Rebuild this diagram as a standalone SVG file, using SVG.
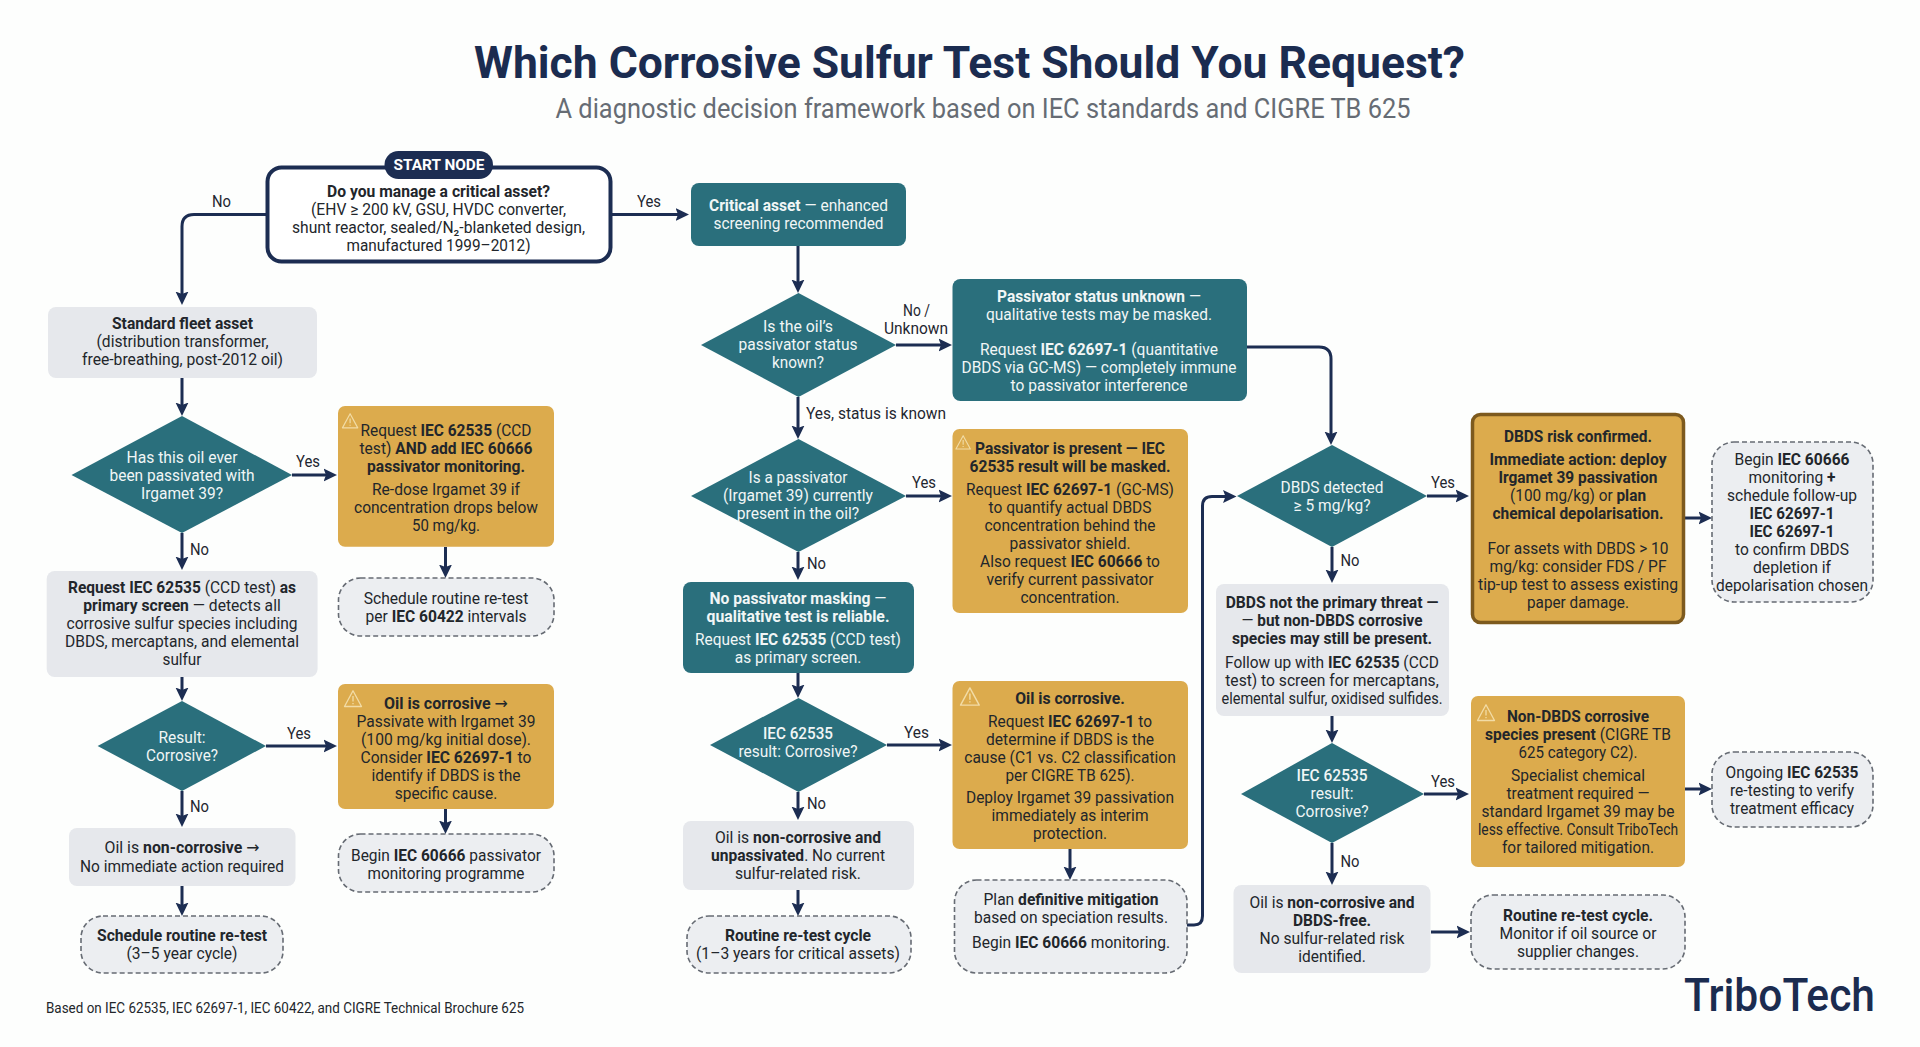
<svg xmlns="http://www.w3.org/2000/svg" width="1920" height="1047" viewBox="0 0 1920 1047">
<style>
text{font-family:Roboto,"DejaVu Sans",sans-serif;font-size:16.5px;text-anchor:middle;fill:#22262b}
.w text,text.w{fill:#f1f6f6}
.b{font-weight:700}
.teal{fill:#2a6f7c}
.amber{fill:#dcab4d}
.gray{fill:#e6e8ec}
.dash{fill:#eceef1;stroke:#666b73;stroke-width:1.6;stroke-dasharray:5 3}
.lbl{fill:#1f2630;font-size:16.5px}
.con path{fill:none;stroke:#1c2d52;stroke-width:3;marker-end:url(#ah)}
</style>
<defs>
<marker id="ah" markerUnits="userSpaceOnUse" markerWidth="15" markerHeight="15" refX="9.500" refY="7" orient="auto"><path d="M0 0.500L13.500 7L0 13.500L2.500 7Z" fill="#1c2d52"/></marker>
<g id="warn" fill="none" stroke="#f2dca6" stroke-width="1.3" stroke-linejoin="round"><path d="M9 0.800L17.500 16.500H0.500Z"/><path d="M9 6V11.500M9 13V14.200"/></g>
</defs>
<rect width="1920" height="1047" fill="#fdfefd"/>

<g id="header">
<text x="969.500" y="78" textLength="991" lengthAdjust="spacingAndGlyphs" class="b" style="font-size:44px;fill:#1b2c50">Which Corrosive Sulfur Test Should You Request?</text>
<text x="983" y="118" textLength="855" lengthAdjust="spacingAndGlyphs" style="font-size:27px;fill:#666c74">A diagnostic decision framework based on IEC standards and CIGRE TB 625</text>
</g>

<g id="connectors" class="con">
<path d="M266 214.500H194Q182 214.500 182 226.500V301"/>
<path d="M612 214.500H685"/>
<path d="M798 246V289"/>
<path d="M896 345H948"/>
<path d="M1247 347H1319Q1331 347 1331 359V441"/>
<path d="M798 397V435"/>
<path d="M906 496H948"/>
<path d="M798 552V576"/>
<path d="M798 673V694"/>
<path d="M887 745H948"/>
<path d="M798 792V816"/>
<path d="M798 890V912"/>
<path d="M1070 849V876"/>
<path d="M1187 925H1194Q1202.500 925 1202.500 916V506Q1202.500 496.500 1212 496.500H1232.500"/>
<path d="M182 378V412"/>
<path d="M292 475H333"/>
<path d="M445.500 547V574"/>
<path d="M182 533V566"/>
<path d="M182 677V697"/>
<path d="M266 746H333"/>
<path d="M445.500 809V830"/>
<path d="M182 791V823"/>
<path d="M182 886V912"/>
<path d="M1427 496H1465"/>
<path d="M1685 518H1708"/>
<path d="M1332 547V579"/>
<path d="M1332 716V739"/>
<path d="M1424 794H1465"/>
<path d="M1685 789H1708"/>
<path d="M1332 843V881"/>
<path d="M1431 932H1466"/>
</g>

<g id="edge-labels">
<text class="lbl" x="221.500" y="207" textLength="19" lengthAdjust="spacingAndGlyphs">No</text>
<text class="lbl" x="649" y="207" textLength="24" lengthAdjust="spacingAndGlyphs">Yes</text>
<text class="lbl" x="916.500" y="315.500" textLength="27" lengthAdjust="spacingAndGlyphs">No /</text>
<text class="lbl" x="916" y="334" textLength="64" lengthAdjust="spacingAndGlyphs">Unknown</text>
<text class="lbl" x="876" y="419" textLength="140" lengthAdjust="spacingAndGlyphs">Yes, status is known</text>
<text class="lbl" x="924" y="488" textLength="24" lengthAdjust="spacingAndGlyphs">Yes</text>
<text class="lbl" x="816.500" y="569" textLength="19" lengthAdjust="spacingAndGlyphs">No</text>
<text class="lbl" x="916.500" y="738" textLength="25" lengthAdjust="spacingAndGlyphs">Yes</text>
<text class="lbl" x="816.500" y="809" textLength="19" lengthAdjust="spacingAndGlyphs">No</text>
<text class="lbl" x="308" y="467" textLength="24" lengthAdjust="spacingAndGlyphs">Yes</text>
<text class="lbl" x="199.500" y="555" textLength="19" lengthAdjust="spacingAndGlyphs">No</text>
<text class="lbl" x="299" y="739" textLength="24" lengthAdjust="spacingAndGlyphs">Yes</text>
<text class="lbl" x="199.500" y="812" textLength="19" lengthAdjust="spacingAndGlyphs">No</text>
<text class="lbl" x="1443" y="488" textLength="24" lengthAdjust="spacingAndGlyphs">Yes</text>
<text class="lbl" x="1350" y="566" textLength="19" lengthAdjust="spacingAndGlyphs">No</text>
<text class="lbl" x="1443" y="787" textLength="24" lengthAdjust="spacingAndGlyphs">Yes</text>
<text class="lbl" x="1350" y="867" textLength="19" lengthAdjust="spacingAndGlyphs">No</text>
</g>

<g id="start">
<rect x="267.500" y="167.500" width="343" height="94" rx="14" fill="#fff" stroke="#1c2d52" stroke-width="4"/>
<rect x="384.500" y="151" width="108.500" height="28" rx="14" fill="#1c2d52"/>
<text x="439" y="170" textLength="91" lengthAdjust="spacingAndGlyphs" class="b" style="font-size:15px;fill:#fff">START NODE</text>
<text x="438.500" y="197" textLength="223" lengthAdjust="spacingAndGlyphs" class="b">Do you manage a critical asset?</text>
<text x="438.500" y="215" textLength="255" lengthAdjust="spacingAndGlyphs">(EHV ≥ 200 kV, GSU, HVDC converter,</text>
<text x="438.500" y="233" textLength="293" lengthAdjust="spacingAndGlyphs">shunt reactor, sealed/N₂-blanketed design,</text>
<text x="438.500" y="251" textLength="184" lengthAdjust="spacingAndGlyphs">manufactured 1999–2012)</text>
</g>

<g id="critical" class="w">
<rect class="teal" x="691" y="183" width="215" height="63" rx="8"/>
<text x="798.500" y="210.500" textLength="179" lengthAdjust="spacingAndGlyphs"><tspan class="b">Critical asset</tspan> — enhanced</text>
<text x="798.500" y="228.500" textLength="170" lengthAdjust="spacingAndGlyphs">screening recommended</text>
</g>

<g id="q-status" class="w">
<polygon class="teal" points="798.500,293 896,345 798.500,397 701,345"/>
<text x="798" y="332" textLength="70" lengthAdjust="spacingAndGlyphs">Is the oil’s</text>
<text x="798" y="350" textLength="119" lengthAdjust="spacingAndGlyphs">passivator status</text>
<text x="798" y="368" textLength="52" lengthAdjust="spacingAndGlyphs">known?</text>
</g>

<g id="status-unknown" class="w">
<rect class="teal" x="952.500" y="279" width="294.500" height="122" rx="8"/>
<text x="1099" y="302" textLength="204" lengthAdjust="spacingAndGlyphs"><tspan class="b">Passivator status unknown</tspan> —</text>
<text x="1099" y="320" textLength="226" lengthAdjust="spacingAndGlyphs">qualitative tests may be masked.</text>
<text x="1099" y="354.500" textLength="238" lengthAdjust="spacingAndGlyphs">Request <tspan class="b">IEC 62697-1</tspan> (quantitative</text>
<text x="1099" y="372.500" textLength="275" lengthAdjust="spacingAndGlyphs">DBDS via GC-MS) — completely immune</text>
<text x="1099" y="390.500" textLength="177" lengthAdjust="spacingAndGlyphs">to passivator interference</text>
</g>

<g id="q-present" class="w">
<polygon class="teal" points="798.500,439 906,496 798.500,552 691,496"/>
<text x="798" y="483" textLength="99" lengthAdjust="spacingAndGlyphs">Is a passivator</text>
<text x="798" y="501" textLength="150" lengthAdjust="spacingAndGlyphs">(Irgamet 39) currently</text>
<text x="798" y="519" textLength="122.600" lengthAdjust="spacingAndGlyphs">present in the oil?</text>
</g>

<g id="passivator-present">
<rect class="amber" x="952.500" y="429" width="235.500" height="184" rx="7"/>
<use href="#warn" transform="translate(955.500 435) scale(.85)"/>
<text x="1070" y="454" textLength="190" lengthAdjust="spacingAndGlyphs" class="b">Passivator is present — IEC</text>
<text x="1070" y="472" textLength="201" lengthAdjust="spacingAndGlyphs" class="b">62535 result will be masked.</text>
<text x="1070" y="495" textLength="208" lengthAdjust="spacingAndGlyphs">Request <tspan class="b">IEC 62697-1</tspan> (GC-MS)</text>
<text x="1070" y="513" textLength="163" lengthAdjust="spacingAndGlyphs">to quantify actual DBDS</text>
<text x="1070" y="531" textLength="171" lengthAdjust="spacingAndGlyphs">concentration behind the</text>
<text x="1070" y="549" textLength="121" lengthAdjust="spacingAndGlyphs">passivator shield.</text>
<text x="1070" y="567" textLength="180" lengthAdjust="spacingAndGlyphs">Also request <tspan class="b">IEC 60666</tspan> to</text>
<text x="1070" y="585" textLength="167" lengthAdjust="spacingAndGlyphs">verify current passivator</text>
<text x="1070" y="603" textLength="99" lengthAdjust="spacingAndGlyphs">concentration.</text>
</g>

<g id="no-masking" class="w">
<rect class="teal" x="683" y="582" width="231" height="91" rx="8"/>
<text x="798" y="604" textLength="177" lengthAdjust="spacingAndGlyphs"><tspan class="b">No passivator masking</tspan> —</text>
<text x="798" y="622" textLength="183" lengthAdjust="spacingAndGlyphs" class="b w">qualitative test is reliable.</text>
<text x="798" y="644.500" textLength="206" lengthAdjust="spacingAndGlyphs">Request <tspan class="b">IEC 62535</tspan> (CCD test)</text>
<text x="798" y="662.500" textLength="126.500" lengthAdjust="spacingAndGlyphs">as primary screen.</text>
</g>

<g id="q-result-mid" class="w">
<polygon class="teal" points="798.500,698 887,745 798.500,792 710,745"/>
<text x="798" y="738.500" textLength="70" lengthAdjust="spacingAndGlyphs" style="font-weight:500">IEC 62535</text>
<text x="798" y="757" textLength="119" lengthAdjust="spacingAndGlyphs">result: Corrosive?</text>
</g>

<g id="corrosive-mid">
<rect class="amber" x="952.500" y="681" width="235.500" height="168" rx="7"/>
<use href="#warn" transform="translate(960 687) scale(1.1)"/>
<text x="1070" y="704" textLength="109.500" lengthAdjust="spacingAndGlyphs" class="b">Oil is corrosive.</text>
<text x="1070" y="727" textLength="164" lengthAdjust="spacingAndGlyphs">Request <tspan class="b">IEC 62697-1</tspan> to</text>
<text x="1070" y="745" textLength="168" lengthAdjust="spacingAndGlyphs">determine if DBDS is the</text>
<text x="1070" y="763" textLength="211.500" lengthAdjust="spacingAndGlyphs">cause (C1 vs. C2 classification</text>
<text x="1070" y="781" textLength="129" lengthAdjust="spacingAndGlyphs">per CIGRE TB 625).</text>
<text x="1070" y="803" textLength="208" lengthAdjust="spacingAndGlyphs">Deploy Irgamet 39 passivation</text>
<text x="1070" y="821" textLength="157" lengthAdjust="spacingAndGlyphs">immediately as interim</text>
<text x="1070" y="839" textLength="74" lengthAdjust="spacingAndGlyphs">protection.</text>
</g>

<g id="plan-mitigation">
<rect class="dash" x="954.500" y="880" width="232.500" height="93" rx="22"/>
<text x="1071" y="905" textLength="175" lengthAdjust="spacingAndGlyphs">Plan <tspan class="b">definitive mitigation</tspan></text>
<text x="1071" y="923" textLength="194" lengthAdjust="spacingAndGlyphs">based on speciation results.</text>
<text x="1071" y="948" textLength="198" lengthAdjust="spacingAndGlyphs">Begin <tspan class="b">IEC 60666</tspan> monitoring.</text>
</g>

<g id="non-corrosive-mid">
<rect class="gray" x="683" y="821" width="231" height="69" rx="8"/>
<text x="798" y="843" textLength="166" lengthAdjust="spacingAndGlyphs">Oil is <tspan class="b">non-corrosive and</tspan></text>
<text x="798" y="861" textLength="174" lengthAdjust="spacingAndGlyphs"><tspan class="b">unpassivated</tspan>. No current</text>
<text x="798" y="879" textLength="126" lengthAdjust="spacingAndGlyphs">sulfur-related risk.</text>
</g>

<g id="retest-mid">
<rect class="dash" x="687" y="916" width="224" height="57" rx="22"/>
<text x="798" y="941" textLength="146" lengthAdjust="spacingAndGlyphs" class="b">Routine re-test cycle</text>
<text x="798" y="959" textLength="204" lengthAdjust="spacingAndGlyphs">(1–3 years for critical assets)</text>
</g>

<g id="standard-fleet">
<rect class="gray" x="48" y="307" width="269" height="71" rx="8"/>
<text x="182.500" y="329" textLength="141" lengthAdjust="spacingAndGlyphs" class="b">Standard fleet asset</text>
<text x="182.500" y="347" textLength="172" lengthAdjust="spacingAndGlyphs">(distribution transformer,</text>
<text x="182.500" y="365" textLength="201" lengthAdjust="spacingAndGlyphs">free-breathing, post-2012 oil)</text>
</g>

<g id="q-passivated" class="w">
<polygon class="teal" points="182,416 292,475 182,533 71.500,475"/>
<text x="182" y="463" textLength="111" lengthAdjust="spacingAndGlyphs">Has this oil ever</text>
<text x="182" y="481" textLength="145" lengthAdjust="spacingAndGlyphs">been passivated with</text>
<text x="182" y="499" textLength="82" lengthAdjust="spacingAndGlyphs">Irgamet 39?</text>
</g>

<g id="passivated-action">
<rect class="amber" x="338" y="406" width="216" height="140.700" rx="7"/>
<use href="#warn" transform="translate(342 413) scale(.9)"/>
<text x="446" y="436" textLength="171" lengthAdjust="spacingAndGlyphs">Request <tspan class="b">IEC 62535</tspan> (CCD</text>
<text x="446" y="454" textLength="173" lengthAdjust="spacingAndGlyphs">test) <tspan class="b">AND add IEC 60666</tspan></text>
<text x="446" y="472" textLength="158" lengthAdjust="spacingAndGlyphs" class="b">passivator monitoring.</text>
<text x="446" y="495" textLength="148" lengthAdjust="spacingAndGlyphs">Re-dose Irgamet 39 if</text>
<text x="446" y="513" textLength="184" lengthAdjust="spacingAndGlyphs">concentration drops below</text>
<text x="446" y="531" textLength="68" lengthAdjust="spacingAndGlyphs">50 mg/kg.</text>
</g>

<g id="retest-60422">
<rect class="dash" x="338.500" y="578" width="215.500" height="58" rx="22"/>
<text x="446" y="604" textLength="164.600" lengthAdjust="spacingAndGlyphs">Schedule routine re-test</text>
<text x="446" y="622" textLength="161" lengthAdjust="spacingAndGlyphs">per <tspan class="b">IEC 60422</tspan> intervals</text>
</g>

<g id="primary-screen">
<rect class="gray" x="46.700" y="571" width="270.900" height="106" rx="8"/>
<text x="182" y="593" textLength="228" lengthAdjust="spacingAndGlyphs"><tspan class="b">Request IEC 62535</tspan> (CCD test) <tspan class="b">as</tspan></text>
<text x="182" y="611" textLength="197.500" lengthAdjust="spacingAndGlyphs"><tspan class="b">primary screen</tspan> — detects all</text>
<text x="182" y="629" textLength="231" lengthAdjust="spacingAndGlyphs">corrosive sulfur species including</text>
<text x="182" y="647" textLength="234" lengthAdjust="spacingAndGlyphs">DBDS, mercaptans, and elemental</text>
<text x="182" y="665" textLength="39" lengthAdjust="spacingAndGlyphs">sulfur</text>
</g>

<g id="q-result-left" class="w">
<polygon class="teal" points="182,701 266,746 182,791 97.600,746"/>
<text x="182" y="743" textLength="47" lengthAdjust="spacingAndGlyphs">Result:</text>
<text x="182" y="761" textLength="72" lengthAdjust="spacingAndGlyphs">Corrosive?</text>
</g>

<g id="corrosive-left">
<rect class="amber" x="338" y="684" width="216" height="125" rx="7"/>
<use href="#warn" transform="translate(344 690)"/>
<text x="446" y="708.500" textLength="124" lengthAdjust="spacingAndGlyphs"><tspan class="b">Oil is corrosive</tspan> →</text>
<text x="446" y="726.500" textLength="179" lengthAdjust="spacingAndGlyphs">Passivate with Irgamet 39</text>
<text x="446" y="744.500" textLength="170" lengthAdjust="spacingAndGlyphs">(100 mg/kg initial dose).</text>
<text x="446" y="762.500" textLength="171" lengthAdjust="spacingAndGlyphs">Consider <tspan class="b">IEC 62697-1</tspan> to</text>
<text x="446" y="780.500" textLength="149" lengthAdjust="spacingAndGlyphs">identify if DBDS is the</text>
<text x="446" y="798.500" textLength="102.500" lengthAdjust="spacingAndGlyphs">specific cause.</text>
</g>

<g id="monitoring-left">
<rect class="dash" x="338.500" y="834" width="215.500" height="58" rx="22"/>
<text x="446" y="860.500" textLength="190" lengthAdjust="spacingAndGlyphs">Begin <tspan class="b">IEC 60666</tspan> passivator</text>
<text x="446" y="878.500" textLength="157" lengthAdjust="spacingAndGlyphs">monitoring programme</text>
</g>

<g id="non-corrosive-left">
<rect class="gray" x="69" y="828" width="226.500" height="58" rx="8"/>
<text x="182" y="853" textLength="155" lengthAdjust="spacingAndGlyphs">Oil is <tspan class="b">non-corrosive</tspan> →</text>
<text x="182" y="872" textLength="204" lengthAdjust="spacingAndGlyphs">No immediate action required</text>
</g>

<g id="retest-left">
<rect class="dash" x="81" y="916" width="202" height="57" rx="22"/>
<text x="182" y="941" textLength="170" lengthAdjust="spacingAndGlyphs" class="b">Schedule routine re-test</text>
<text x="182" y="959" textLength="111" lengthAdjust="spacingAndGlyphs">(3–5 year cycle)</text>
</g>

<g id="q-dbds" class="w">
<polygon class="teal" points="1332,445 1427,496 1332,547 1237,496"/>
<text x="1332" y="493" textLength="103" lengthAdjust="spacingAndGlyphs">DBDS detected</text>
<text x="1332" y="511" textLength="77" lengthAdjust="spacingAndGlyphs">≥ 5 mg/kg?</text>
</g>

<g id="dbds-confirmed">
<rect x="1472.500" y="414.500" width="211" height="208" rx="8" fill="#dcab4d" stroke="#7d5a1e" stroke-width="3.500"/>
<text x="1578" y="442" textLength="148" lengthAdjust="spacingAndGlyphs" class="b">DBDS risk confirmed.</text>
<text x="1578" y="465" textLength="177" lengthAdjust="spacingAndGlyphs" class="b">Immediate action: deploy</text>
<text x="1578" y="483" textLength="159" lengthAdjust="spacingAndGlyphs" class="b">Irgamet 39 passivation</text>
<text x="1578" y="501" textLength="136" lengthAdjust="spacingAndGlyphs">(100 mg/kg) or <tspan class="b">plan</tspan></text>
<text x="1578" y="519" textLength="171" lengthAdjust="spacingAndGlyphs" class="b">chemical depolarisation.</text>
<text x="1578" y="554" textLength="181" lengthAdjust="spacingAndGlyphs">For assets with DBDS &gt; 10</text>
<text x="1578" y="572" textLength="177" lengthAdjust="spacingAndGlyphs">mg/kg: consider FDS / PF</text>
<text x="1578" y="590" textLength="200" lengthAdjust="spacingAndGlyphs">tip-up test to assess existing</text>
<text x="1578" y="608" textLength="102" lengthAdjust="spacingAndGlyphs">paper damage.</text>
</g>

<g id="begin-monitoring">
<rect class="dash" x="1712" y="442" width="161" height="160" rx="22"/>
<text x="1792" y="465" textLength="115" lengthAdjust="spacingAndGlyphs">Begin <tspan class="b">IEC 60666</tspan></text>
<text x="1792" y="483" textLength="87" lengthAdjust="spacingAndGlyphs">monitoring <tspan class="b">+</tspan></text>
<text x="1792" y="501" textLength="130" lengthAdjust="spacingAndGlyphs">schedule follow-up</text>
<text x="1792" y="519" textLength="85" lengthAdjust="spacingAndGlyphs" class="b">IEC 62697-1</text>
<text x="1792" y="537" textLength="85" lengthAdjust="spacingAndGlyphs" class="b">IEC 62697-1</text>
<text x="1792" y="555" textLength="114" lengthAdjust="spacingAndGlyphs">to confirm DBDS</text>
<text x="1792" y="573" textLength="78" lengthAdjust="spacingAndGlyphs">depletion if</text>
<text x="1792" y="591" textLength="152" lengthAdjust="spacingAndGlyphs">depolarisation chosen</text>
</g>

<g id="not-primary">
<rect class="gray" x="1216" y="584" width="233" height="132" rx="8"/>
<text x="1332" y="608" textLength="212.600" lengthAdjust="spacingAndGlyphs" class="b">DBDS not the primary threat —</text>
<text x="1332" y="626" textLength="181" lengthAdjust="spacingAndGlyphs">— <tspan class="b">but non-DBDS corrosive</tspan></text>
<text x="1332" y="644" textLength="200" lengthAdjust="spacingAndGlyphs" class="b">species may still be present.</text>
<text x="1332" y="667.500" textLength="214" lengthAdjust="spacingAndGlyphs">Follow up with <tspan class="b">IEC 62535</tspan> (CCD</text>
<text x="1332" y="685.500" textLength="213.500" lengthAdjust="spacingAndGlyphs">test) to screen for mercaptans,</text>
<text x="1332" y="703.500" textLength="221" lengthAdjust="spacingAndGlyphs">elemental sulfur, oxidised sulfides.</text>
</g>

<g id="q-result-right" class="w">
<polygon class="teal" points="1332,743 1424,794 1332,843 1241,794"/>
<text x="1332" y="781" textLength="71" lengthAdjust="spacingAndGlyphs" style="font-weight:500">IEC 62535</text>
<text x="1332" y="799" textLength="43" lengthAdjust="spacingAndGlyphs">result:</text>
<text x="1332" y="817" textLength="73" lengthAdjust="spacingAndGlyphs">Corrosive?</text>
</g>

<g id="non-dbds">
<rect class="amber" x="1471" y="696" width="214" height="171" rx="7"/>
<use href="#warn" transform="translate(1477 704)"/>
<text x="1578" y="722" textLength="142" lengthAdjust="spacingAndGlyphs" class="b">Non-DBDS corrosive</text>
<text x="1578" y="740" textLength="186" lengthAdjust="spacingAndGlyphs"><tspan class="b">species present</tspan> (CIGRE TB</text>
<text x="1578" y="758" textLength="119" lengthAdjust="spacingAndGlyphs">625 category C2).</text>
<text x="1578" y="781" textLength="134" lengthAdjust="spacingAndGlyphs">Specialist chemical</text>
<text x="1578" y="799" textLength="143" lengthAdjust="spacingAndGlyphs">treatment required —</text>
<text x="1578" y="817" textLength="193" lengthAdjust="spacingAndGlyphs">standard Irgamet 39 may be</text>
<text x="1578" y="835" textLength="200" lengthAdjust="spacingAndGlyphs">less effective. Consult TriboTech</text>
<text x="1578" y="853" textLength="152" lengthAdjust="spacingAndGlyphs">for tailored mitigation.</text>
</g>

<g id="ongoing">
<rect class="dash" x="1712" y="752" width="161" height="75" rx="22"/>
<text x="1792" y="778" textLength="133" lengthAdjust="spacingAndGlyphs">Ongoing <tspan class="b">IEC 62535</tspan></text>
<text x="1792" y="796" textLength="124" lengthAdjust="spacingAndGlyphs">re-testing to verify</text>
<text x="1792" y="814" textLength="124" lengthAdjust="spacingAndGlyphs">treatment efficacy</text>
</g>

<g id="non-corrosive-right">
<rect class="gray" x="1233.500" y="885" width="197" height="88" rx="8"/>
<text x="1332" y="908" textLength="165" lengthAdjust="spacingAndGlyphs">Oil is <tspan class="b">non-corrosive and</tspan></text>
<text x="1332" y="926" textLength="78" lengthAdjust="spacingAndGlyphs" class="b">DBDS-free.</text>
<text x="1332" y="944" textLength="145" lengthAdjust="spacingAndGlyphs">No sulfur-related risk</text>
<text x="1332" y="962" textLength="67.500" lengthAdjust="spacingAndGlyphs">identified.</text>
</g>

<g id="retest-right">
<rect class="dash" x="1471" y="895" width="214" height="74" rx="22"/>
<text x="1578" y="921" textLength="150" lengthAdjust="spacingAndGlyphs" class="b">Routine re-test cycle.</text>
<text x="1578" y="939" textLength="157" lengthAdjust="spacingAndGlyphs">Monitor if oil source or</text>
<text x="1578" y="957" textLength="122" lengthAdjust="spacingAndGlyphs">supplier changes.</text>
</g>

<g id="footer">
<text x="285" y="1013" textLength="478" lengthAdjust="spacingAndGlyphs" style="font-size:14px">Based on IEC 62535, IEC 62697-1, IEC 60422, and CIGRE Technical Brochure 625</text>
<text x="1779.500" y="1011" textLength="191" lengthAdjust="spacingAndGlyphs" style="font-size:46px;font-weight:500;fill:#1b2c50">TriboTech</text>
</g>
</svg>
